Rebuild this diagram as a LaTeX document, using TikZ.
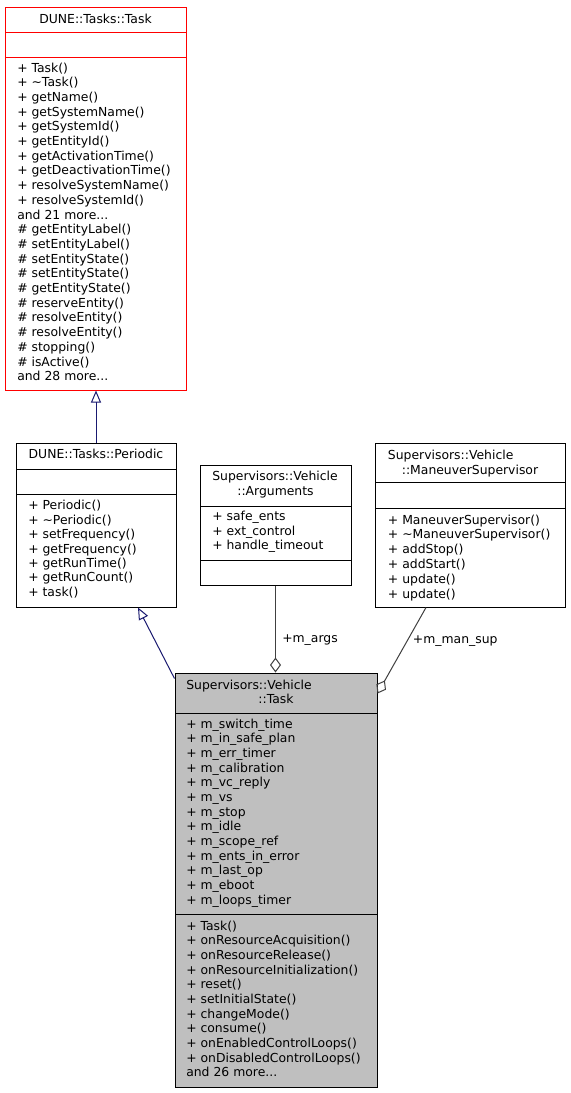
\documentclass[tikz,border=0pt]{standalone}
\usepackage{fontspec}
\setmainfont{DejaVu Sans}
\usetikzlibrary{arrows.meta,fit}
\definecolor{navy}{HTML}{191970}
\definecolor{edgegray}{HTML}{404040}
\definecolor{boxgray}{HTML}{BFBFBF}
\newcommand\mytdots{...}
\tikzset{
  classbox/.style={draw=black, line width=0.75pt, inner sep=0pt},
  sepline/.style={line width=0.75pt},
  txt/.style={font=\fontsize{9.3pt}{11pt}\selectfont, inner sep=0pt, anchor=base west},
  ttl/.style={font=\fontsize{9.3pt}{11pt}\selectfont, inner sep=0pt, anchor=base},
  inherit/.style={draw=navy, line width=0.75pt, -{Triangle[open,length=9pt,width=7.5pt]}},
  aggr/.style={draw=edgegray, line width=0.75pt, -{Diamond[open,length=11.25pt,width=8.25pt]}}
}
\begin{document}
\begin{tikzpicture}[x=0.75pt,y=-0.75pt]
\useasboundingbox (0,0) rectangle (571,1093);
\fill[white] (0,0) rectangle (571,1093);

% ---------- DUNE::Tasks::Task ----------
\node[classbox, draw=red, fit={(5,7)(186,390)}] (tt) {};
\draw[sepline, red] (5,32) -- (186,32);
\draw[sepline, red] (5,57) -- (186,57);
\node[ttl] (ttT) at (95.5,23) {DUNE::Tasks::Task};
\foreach \s [count=\i] in {+ Task(), + \textasciitilde Task(), + getName(), + getSystemName(), + getSystemId(), + getEntityId(), + getActivationTime(), + getDeactivationTime(), + resolveSystemName(), + resolveSystemId(), and 21 more\mytdots, \# getEntityLabel(), \# setEntityLabel(), \# setEntityState(), \# setEntityState(), \# getEntityState(), \# reserveEntity(), \# resolveEntity(), \# resolveEntity(), \# stopping(), \# isActive(), and 28 more\mytdots}
  \node[txt] (ttm\i) at (17,{72+(\i-1)*14.7}) {\s};

% ---------- DUNE::Tasks::Periodic ----------
\node[classbox, fit={(16,443)(176,607)}] (per) {};
\draw[sepline] (16,469) -- (176,469);
\draw[sepline] (16,494) -- (176,494);
\node[ttl] (perT) at (96,458) {DUNE::Tasks::Periodic};
\foreach \s [count=\i] in {+ Periodic(), + \textasciitilde Periodic(), + setFrequency(), + getFrequency(), + getRunTime(), + getRunCount(), + task()}
  \node[txt] (perm\i) at (28,{509.7+(\i-1)*14.45}) {\s};

% ---------- Supervisors::Vehicle::Arguments ----------
\node[classbox, fit={(200,465)(351,585)}] (args) {};
\draw[sepline] (200,506) -- (351,506);
\draw[sepline] (200,560) -- (351,560);
\node[txt] (argsT1) at (212,480.7) {Supervisors::Vehicle};
\node[ttl] (argsT2) at (275.5,495) {::Arguments};
\foreach \s [count=\i] in {+ safe\_ents, + ext\_control, + handle\_timeout}
  \node[txt] (argsa\i) at (212,{520.7+(\i-1)*14.5}) {\s};

% ---------- Supervisors::Vehicle::ManeuverSupervisor ----------
\node[classbox, fit={(375,443)(565,607)}] (man) {};
\draw[sepline] (375,482) -- (565,482);
\draw[sepline] (375,508) -- (565,508);
\node[txt] (manT1) at (387.7,459) {Supervisors::Vehicle};
\node[ttl] (manT2) at (470,474.7) {::ManeuverSupervisor};
\foreach \s [count=\i] in {+ ManeuverSupervisor(), + \textasciitilde ManeuverSupervisor(), + addStop(), + addStart(), + update(), + update()}
  \node[txt] (manm\i) at (387.7,{524+(\i-1)*14.8}) {\s};

% ---------- Supervisors::Vehicle::Task ----------
\node[classbox, fill=boxgray, fit={(175,673)(377,1087)}] (vt) {};
\draw[sepline] (175,713) -- (377,713);
\draw[sepline] (175,914) -- (377,914);
\node[txt] (vtT1) at (186,689) {Supervisors::Vehicle};
\node[ttl] (vtT2) at (276,703.3) {::Task};
\foreach \s [count=\i] in {+ m\_switch\_time, + m\_in\_safe\_plan, + m\_err\_timer, + m\_calibration, + m\_vc\_reply, + m\_vs, + m\_stop, + m\_idle, + m\_scope\_ref, + m\_ents\_in\_error, + m\_last\_op, + m\_eboot, + m\_loops\_timer}
  \node[txt] (vta\i) at (186,{728+(\i-1)*14.67}) {\s};
\foreach \s [count=\i] in {+ Task(), + onResourceAcquisition(), + onResourceRelease(), + onResourceInitialization(), + reset(), + setInitialState(), + changeMode(), + consume(), + onEnabledControlLoops(), + onDisabledControlLoops(), and 26 more\mytdots}
  \node[txt] (vtm\i) at (186,{930+(\i-1)*14.67}) {\s};

% ---------- connectors ----------
\draw[inherit] (per.north) -- (per.north |- tt.south);
\draw[inherit] ([yshift=-4.5pt]vt.north west) -- ([xshift=31.5pt]per.south);
\draw[aggr] (args.south) -- (args.south |- vt.north);
\draw[aggr] ([xshift=-33pt]man.south) -- ([yshift=-15.75pt]vt.north east);

\node[txt] (lblargs) at (282,642) {+m\_args};
\node[txt] (lblman) at (412.7,643) {+m\_man\_sup};
\end{tikzpicture}
\end{document}
